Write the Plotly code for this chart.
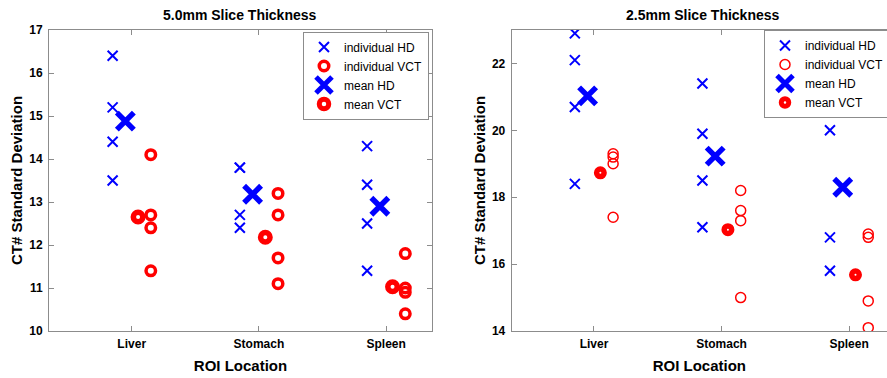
import plotly.graph_objects as go

# ---------------- data ----------------
categories = ["Liver", "Stomach", "Spleen"]

# 5.0 mm slice thickness
hd_5mm = [[16.4, 15.2, 14.4, 13.5], [13.8, 13.8, 12.7, 12.4], [14.3, 13.4, 12.5, 11.4]]
vct_5mm = [[14.1, 12.7, 12.4, 11.4], [13.2, 12.7, 11.7, 11.1], [11.8, 11.0, 10.9, 10.4]]
mean_hd_5mm = [14.88, 13.18, 12.90]
mean_vct_5mm = [12.65, 12.18, 11.03]

# 2.5 mm slice thickness
hd_25mm = [[22.9, 22.1, 20.7, 18.4], [21.4, 19.9, 18.5, 17.1], [20.6, 20.0, 16.8, 15.8]]
vct_25mm = [[19.3, 19.2, 19.0, 17.4], [18.2, 17.6, 17.3, 15.0], [16.9, 16.8, 14.9, 14.1]]
mean_hd_25mm = [21.03, 19.23, 18.30]
mean_vct_25mm = [18.73, 17.03, 15.68]

titles = ["5.0mm Slice Thickness", "2.5mm Slice Thickness"]
y_ticks_5mm = [10, 11, 12, 13, 14, 15, 16, 17]
y_ticks_25mm = [14, 16, 18, 20, 22]
series_names = ["individual HD", "individual VCT", "mean HD", "mean VCT"]

# ---------------- layout constants ----------------
W, H = 887, 378
OFF_IND_HD, OFF_MEAN_HD, OFF_MEAN_VCT, OFF_IND_VCT = -0.15, -0.05, 0.05, 0.15
BLUE, RED = "#0000ff", "#ff0000"
FONT = "Liberation Sans, Arial, Helvetica, sans-serif"
AXIS_COLOR = "#8c8c8c"


def px_x(p):
    return p / W


def px_y(p):
    return 1 - p / H


fig = go.Figure()


def add_panel(hd, vct, mhd, mvct, xa, ya, legend, vct_ind_style, vct_mean_style):
    xs_hd, ys_hd, xs_vct, ys_vct = [], [], [], []
    for i, vals in enumerate(hd):
        for v in vals:
            xs_hd.append(i + 1 + OFF_IND_HD)
            ys_hd.append(v)
    for i, vals in enumerate(vct):
        for v in vals:
            xs_vct.append(i + 1 + OFF_IND_VCT)
            ys_vct.append(v)
    common = dict(xaxis=xa, yaxis=ya, mode="markers", legend=legend, hoverinfo="x+y")
    fig.add_trace(go.Scatter(
        x=xs_hd, y=ys_hd, name=series_names[0],
        marker=dict(symbol="x-thin", size=10, color=BLUE, line=dict(color=BLUE, width=2)),
        **common))
    fig.add_trace(go.Scatter(
        x=xs_vct, y=ys_vct, name=series_names[1],
        marker=dict(symbol="circle-open", size=vct_ind_style[0], color=RED,
                    line=dict(color=RED, width=vct_ind_style[1])),
        **common))
    fig.add_trace(go.Scatter(
        x=[i + 1 + OFF_MEAN_HD for i in range(len(mhd))], y=mhd, name=series_names[2],
        marker=dict(symbol="x-thin", size=17, color=BLUE, line=dict(color=BLUE, width=5.5)),
        **common))
    fig.add_trace(go.Scatter(
        x=[i + 1 + OFF_MEAN_VCT for i in range(len(mvct))], y=mvct, name=series_names[3],
        marker=dict(symbol="circle-open", size=vct_mean_style[0], color=RED,
                    line=dict(color=RED, width=vct_mean_style[1])),
        **common))


add_panel(hd_5mm, vct_5mm, mean_hd_5mm, mean_vct_5mm, "x", "y", "legend", (9.5, 3.5), (9.5, 5.5))
add_panel(hd_25mm, vct_25mm, mean_hd_25mm, mean_vct_25mm, "x2", "y2", "legend2", (10, 1.5), (7.5, 5.5))

tickfont = dict(family=FONT, size=12, color="black", weight="bold")
titlefont = dict(family=FONT, size=15, color="black", weight="bold")

xcommon = dict(
    tickmode="array", tickvals=[1, 2, 3], ticktext=categories,
    ticks="inside", ticklen=5, tickcolor=AXIS_COLOR, showline=True, linecolor=AXIS_COLOR,
    linewidth=1, showgrid=False, zeroline=False, tickfont=tickfont,
    ticklabelstandoff=2, title=dict(text="ROI Location", font=titlefont, standoff=10),
)
ycommon = dict(
    ticks="inside", ticklen=5, tickcolor=AXIS_COLOR, showline=True, linecolor=AXIS_COLOR,
    linewidth=1, showgrid=False, zeroline=False, tickfont=tickfont, ticklabelstandoff=3,
    title=dict(text="CT# Standard Deviation", font=titlefont, standoff=2),
)

legend_common = dict(
    font=dict(family=FONT, size=12, color="black"), bgcolor="white",
    bordercolor=AXIS_COLOR, borderwidth=1, itemsizing="trace", itemwidth=30,
    tracegroupgap=0, yanchor="top",
)

title_font = dict(family=FONT, size=14, color="black", weight="bold")

fig.update_layout(
    width=W, height=H, plot_bgcolor="white", paper_bgcolor="white",
    margin=dict(l=0, r=0, t=0, b=0, autoexpand=False),
    showlegend=True,
    xaxis=dict(domain=[px_x(49), px_x(432)], range=[0.35, 3.36], mirror="ticks", anchor="y", **xcommon),
    yaxis=dict(domain=[px_y(331), px_y(30)], range=[10, 17], tickvals=y_ticks_5mm,
               mirror="ticks", anchor="x", **ycommon),
    xaxis2=dict(domain=[px_x(511.7), 1.0], range=[0.355, 3.297], mirror="ticks", anchor="y2", **xcommon),
    yaxis2=dict(domain=[px_y(331), px_y(30)], range=[14, 23], tickvals=y_ticks_25mm,
                mirror=False, anchor="x2", **ycommon),
    legend=dict(x=px_x(429), xanchor="right", y=px_y(31.5), **legend_common),
    legend2=dict(x=px_x(764), xanchor="left", y=px_y(30), **legend_common),
    annotations=[
        dict(text=titles[0], x=px_x(240.5), y=px_y(15), xref="paper", yref="paper",
             xanchor="center", yanchor="middle", showarrow=False, font=title_font),
        dict(text=titles[1], x=px_x(703.3), y=px_y(15), xref="paper", yref="paper",
             xanchor="center", yanchor="middle", showarrow=False, font=title_font),
    ],
)

fig.write_html("out.html")
